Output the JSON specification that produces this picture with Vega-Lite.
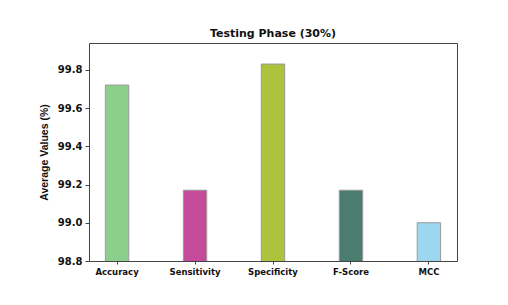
{
  "$schema": "https://vega.github.io/schema/vega-lite/v6.json",
  "autosize": "none",
  "width": 368,
  "height": 218,
  "padding": {"left": 89, "top": 43, "right": 51, "bottom": 44},
  "background": "white",
  "title": {"text": "Testing Phase (30%)", "font": "DejaVu Sans", "fontSize": 11, "fontWeight": "bold", "color": "#111", "offset": 4, "anchor": "middle"},
  "config": {"view": {"stroke": "#444", "strokeWidth": 1}},
  "data": {"values": [
    {"metric": "Accuracy", "value": 99.72},
    {"metric": "Sensitivity", "value": 99.17},
    {"metric": "Specificity", "value": 99.83},
    {"metric": "F-Score", "value": 99.17},
    {"metric": "MCC", "value": 99.0}
  ]},
  "mark": {"type": "bar", "stroke": "#999", "strokeWidth": 1, "clip": true},
  "encoding": {
    "x": {"field": "metric", "type": "nominal", "sort": null,
      "scale": {"paddingInner": 0.7, "paddingOuter": 0.21},
      "axis": {"title": null, "labelAngle": 0, "labelFont": "DejaVu Sans", "labelFontWeight": "bold", "labelFontSize": 8.5, "labelColor": "#111", "tickColor": "#444", "tickSize": 3, "domain": false, "labelPadding": 3}},
    "y": {"field": "value", "type": "quantitative",
      "scale": {"domain": [98.8, 99.94], "zero": false, "nice": false},
      "axis": {"title": "Average Values (%)", "titleFont": "Liberation Sans", "titleFontWeight": "bold", "titleFontSize": 10.5, "titleColor": "#111", "titlePadding": 8,
        "values": [98.8, 99.0, 99.2, 99.4, 99.6, 99.8], "format": ".1f", "labelFont": "DejaVu Sans", "labelFontWeight": "bold", "labelFontSize": 10, "labelColor": "#111", "tickColor": "#444", "tickSize": 4, "labelPadding": 3, "grid": false, "domain": false}},
    "color": {"field": "metric", "type": "nominal", "sort": null, "legend": null,
      "scale": {"domain": ["Accuracy", "Sensitivity", "Specificity", "F-Score", "MCC"], "range": ["#8ccf8c", "#c44a9a", "#adc23d", "#4a7c70", "#9dd6ef"]}}
  }
}
